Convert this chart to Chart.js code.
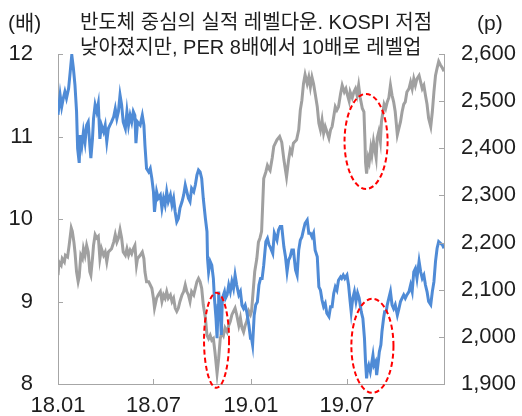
<!DOCTYPE html>
<html>
<head>
<meta charset="utf-8">
<script src="https://cdn.jsdelivr.net/npm/chart.js@4.4.1/dist/chart.umd.min.js"></script>
<style>
  html, body { margin: 0; padding: 0; background: #ffffff; }
  canvas { display: block; }
</style>
</head>
<body>
<canvas id="chart" width="522" height="416"></canvas>
<script>
// Period covered by the chart and its date ticks
const startDate = '2018-01-02';
const endDate = '2019-12-31';
const tickDates = ['2018-01-02', '2018-07-01', '2019-01-01', '2019-07-01'];
const tickLabels = ['18.01', '18.07', '19.01', '19.07'];

// Text
const titleLines = ['반도체 중심의 실적 레벨다운. KOSPI 저점', '낮아졌지만, PER 8배에서 10배로 레벨업'];
const leftUnit = '(배)';
const rightUnit = '(p)';

// KOSPI index (right axis): days since start date, index level
const kospiDays = [
  0,4,7,10,13,16,20,23,26,29,32,35,37,40,42,45,48,51,54,57,
  60,62,65,67,70,73,76,79,82,86,89,92,95,98,101,105,108,111,114,117,
  120,123,127,130,133,136,139,142,145,147,150,155,159,162,164,167,171,174,177,180,
  182,186,189,193,196,199,202,205,208,212,215,218,221,224,227,230,234,237,240,243,
  246,249,252,256,259,262,265,268,271,274,278,281,282,284,287,290,293,295,298,300,
  302,303,306,308,310,314,316,319,322,325,328,331,334,337,341,344,347,350,353,356,
  360,363,365,367,370,373,376,379,382,385,388,392,395,398,400,405,408,413,416,419,
  422,426,429,432,435,438,441,444,448,451,454,457,460,463,466,470,473,476,479,482,
  485,489,492,495,498,501,504,507,511,514,517,520,523,526,529,533,535,538,541,545,
  548,551,553,556,559,562,565,568,572,575,578,580,582,584,586,589,591,594,596,599,
  601,604,606,609,611,614,616,619,621,624,627,630,633,636,640,643,646,649,652,655,
  658,662,665,668,671,674,677,681,684,687,690,693,696,699,703,706,709,712,715,718,
  721,725,728,729
];
const kospiValues = [
  2471,2513,2488,2506,2520,2506,2527,2562,2598,2570,2534,2478,2400,2369,2428,2406,2435,2413,2449,2456,
  2407,2379,2420,2463,2492,2478,2495,2420,2449,2435,2449,2414,2442,2449,2456,2467,2484,2463,2478,2513,
  2492,2456,2442,2478,2449,2470,2456,2478,2470,2411,2456,2449,2470,2449,2406,2357,2350,2357,2336,2308,
  2265,2308,2294,2301,2273,2294,2280,2308,2287,2301,2280,2294,2265,2244,2251,2273,2287,2301,2322,2308,
  2294,2287,2315,2308,2322,2343,2354,2350,2336,2294,2251,2223,2167,2138,2160,2152,2124,2082,2039,1997,
  2067,2096,2053,2004,2082,2096,2082,2089,2110,2096,2117,2103,2131,2110,2089,2096,2067,2060,2067,2053,
  2025,1997,1997,1983,2046,2068,2074,2110,2124,2124,2152,2202,2209,2195,2191,2177,2220,2205,2227,2234,
  2234,2191,2170,2138,2163,2170,2184,2184,2142,2131,2184,2205,2212,2227,2241,2248,2220,2220,2212,2220,
  2184,2170,2106,2099,2078,2064,2071,2050,2043,2064,2064,2092,2106,2099,2120,2127,2124,2131,2124,2131,
  2110,2075,2053,2082,2096,2075,2093,2082,2053,2039,1997,1947,1912,1933,1940,1926,1940,1961,1940,1947,
  1919,1947,1968,1983,2011,2039,2053,2053,2068,2082,2096,2068,2060,2068,2046,2060,2075,2082,2089,2082,
  2089,2096,2110,2096,2138,2145,2124,2160,2138,2124,2131,2110,2096,2075,2068,2096,2117,2160,2188,2202,
  2199,2195,2188,2160
];

// 12-month forward PER (left axis): days since start date, multiple
const perDays = [
  0,2,6,8,12,14,18,21,25,27,30,32,35,38,40,43,46,48,51,54,
  57,60,62,65,67,70,73,76,79,82,86,89,92,95,98,101,105,108,111,114,
  117,120,123,127,130,133,136,139,142,145,148,150,155,159,162,164,167,171,174,177,
  180,182,186,189,193,196,199,202,205,208,212,215,218,221,224,227,230,234,237,240,
  243,246,249,252,256,259,262,265,268,271,274,278,281,284,287,290,293,296,300,303,
  306,309,312,315,319,322,325,328,331,334,337,341,344,347,350,353,356,360,363,365,
  368,371,375,378,381,384,386,388,392,395,398,400,404,407,413,418,422,426,431,435,
  438,441,444,450,454,457,460,463,466,470,473,476,479,482,485,489,492,495,498,501,
  504,507,511,514,517,520,523,526,529,533,536,540,543,546,549,551,555,558,561,564,
  567,570,574,577,579,580,582,585,587,590,592,595,597,600,602,605,608,610,613,615,
  618,621,624,627,630,633,636,640,643,646,649,652,655,658,662,665,668,671,674,677,
  681,684,687,690,693,696,699,703,706,709,712,715,718,721,725,728,729
];
const perValues = [
  9.32,9.48,9.44,9.52,9.48,9.56,9.54,9.68,9.89,9.85,9.72,9.60,9.36,9.24,9.30,9.56,9.52,9.64,9.56,9.68,
  9.60,9.36,9.32,9.52,9.68,9.81,9.77,9.79,9.52,9.64,9.56,9.60,9.48,9.60,9.62,9.64,9.72,9.81,9.72,9.77,
  9.87,9.77,9.60,9.56,9.64,9.56,9.62,9.58,9.64,9.68,9.44,9.52,9.56,9.60,9.52,9.36,9.24,9.24,9.20,9.16,
  9.04,8.92,9.04,9.08,9.12,9.00,9.08,9.04,9.12,9.04,9.08,9.00,9.04,8.92,8.88,8.92,9.00,9.08,9.12,9.20,
  9.12,9.08,9.00,9.12,9.08,9.16,9.24,9.28,9.24,9.16,8.96,8.80,8.59,8.55,8.59,8.53,8.55,8.39,8.13,8.31,
  8.55,8.63,8.59,8.68,8.63,8.71,8.76,8.84,8.88,8.92,8.84,8.71,8.80,8.68,8.63,8.71,8.76,8.88,8.84,8.88,
  9.12,9.36,9.52,9.72,9.77,9.85,10.17,10.49,10.57,10.65,10.61,10.59,10.74,10.88,10.96,11.00,10.93,10.72,10.51,10.72,
  10.84,10.80,10.92,10.96,11.08,11.32,11.44,11.64,11.75,11.64,11.72,11.60,11.72,11.64,11.52,11.36,11.16,11.08,11.20,11.04,
  11.12,11.06,10.98,11.08,11.12,11.24,11.36,11.32,11.36,11.52,11.62,11.54,11.58,11.50,11.43,11.54,11.47,11.54,11.58,11.50,
  11.62,11.47,11.34,11.30,10.94,10.69,10.55,10.74,10.69,10.86,10.78,10.94,10.86,10.74,10.98,11.06,10.94,11.18,11.30,11.39,
  11.34,11.42,11.47,11.62,11.50,11.42,11.30,11.02,11.10,11.18,11.30,11.39,11.42,11.54,11.58,11.66,11.58,11.70,11.62,11.70,
  11.74,11.66,11.58,11.62,11.50,11.39,11.22,11.12,11.30,11.54,11.74,11.83,11.91,11.87,11.83,11.79,11.50
];

// Dashed circles marking the two troughs (centre and half-extent in data units)
const highlights = [
  { yAxis: 'yPer',   day: 299, value: 8.53,  halfDays: 23.6, halfValue: 0.576 },
  { yAxis: 'yPer',   day: 581, value: 10.94, halfDays: 40.6, halfValue: 0.576 },
  { yAxis: 'yKospi', day: 593, value: 1981,  halfDays: 39.7, halfValue: 99.7 }
];

const DAY_MS = 86400000;
const dayOf = d => Math.round((Date.parse(d) - Date.parse(startDate)) / DAY_MS);
const tickDays = tickDates.map(dayOf);

const TEXT = '#1e1e1e';
const FRAME = '#a6a6a6';
const NUM_FONT = "'Liberation Sans', Arial, sans-serif";
const KR_FONT = "'Liberation Sans', 'Noto Sans CJK KR', sans-serif";

const kospiData = kospiDays.map((d, i) => ({ x: d, y: kospiValues[i] }));
const perData = perDays.map((d, i) => ({ x: d, y: perValues[i] }));

// Inward tick marks, trough highlights and header text
const decorations = {
  id: 'decorations',
  afterDraw(chart) {
    const { ctx, chartArea, scales } = chart;
    ctx.save();

    // tick marks pointing into the plot
    ctx.strokeStyle = FRAME;
    ctx.lineWidth = 1;
    ctx.beginPath();
    scales.x.ticks.forEach(t => {
      const px = Math.round(scales.x.getPixelForValue(t.value)) + 0.5;
      ctx.moveTo(px, chartArea.bottom);
      ctx.lineTo(px, chartArea.bottom - 5);
    });
    scales.yPer.ticks.forEach(t => {
      const py = Math.round(scales.yPer.getPixelForValue(t.value)) + 0.5;
      ctx.moveTo(chartArea.left, py);
      ctx.lineTo(chartArea.left + 5, py);
    });
    scales.yKospi.ticks.forEach(t => {
      const py = Math.round(scales.yKospi.getPixelForValue(t.value)) + 0.5;
      ctx.moveTo(chartArea.right, py);
      ctx.lineTo(chartArea.right - 5, py);
    });
    ctx.stroke();

    // dashed ellipses
    ctx.strokeStyle = '#ff0000';
    ctx.lineWidth = 2;
    ctx.setLineDash([5, 3]);
    highlights.forEach(h => {
      const ys = scales[h.yAxis];
      const cx = scales.x.getPixelForValue(h.day);
      const cy = ys.getPixelForValue(h.value);
      const rx = Math.abs(scales.x.getPixelForValue(h.day + h.halfDays) - cx);
      const ry = Math.abs(ys.getPixelForValue(h.value + h.halfValue) - cy);
      ctx.beginPath();
      ctx.ellipse(cx, cy, rx, ry, 0, 0, Math.PI * 2);
      ctx.stroke();
    });
    ctx.setLineDash([]);

    // header: units and title
    ctx.fillStyle = TEXT;
    ctx.textBaseline = 'alphabetic';
    ctx.textAlign = 'left';
    ctx.font = '21px ' + KR_FONT;
    ctx.fillText(leftUnit, 8, 30);
    ctx.fillText(rightUnit, 477, 30);
    ctx.font = '20px ' + KR_FONT;
    ctx.fillText(titleLines[0], 80, 29);
    ctx.fillText(titleLines[1], 80, 54);
    ctx.restore();
  }
};

// Label offsets are set through tickLength (marks themselves are hidden with the grid),
// so that tick padding does not inflate the layout around the plot.
new Chart(document.getElementById('chart'), {
  type: 'line',
  data: {
    datasets: [
      {
        label: 'KOSPI',
        data: kospiData,
        yAxisID: 'yKospi',
        borderColor: '#4f8bd6',
        borderWidth: 3,
        pointRadius: 0,
        tension: 0,
        fill: false
      },
      {
        label: 'PER',
        data: perData,
        yAxisID: 'yPer',
        borderColor: '#a0a0a0',
        borderWidth: 3,
        pointRadius: 0,
        tension: 0,
        fill: false
      }
    ]
  },
  options: {
    responsive: false,
    animation: false,
    devicePixelRatio: 1,
    layout: { padding: { top: 54, left: 0, right: 0, bottom: 0 } },
    plugins: { legend: { display: false }, tooltip: { enabled: false }, title: { display: false } },
    scales: {
      x: {
        type: 'linear',
        min: 0,
        max: dayOf(endDate),
        afterBuildTicks: scale => { scale.ticks = tickDays.map(v => ({ value: v })); },
        afterFit: scale => { scale.height = 32; },
        grid: { display: false, drawTicks: true, tickLength: 9 },
        border: { display: true, color: FRAME, width: 1 },
        ticks: {
          autoSkip: false,
          maxRotation: 0,
          padding: 0,
          color: TEXT,
          font: { family: NUM_FONT, size: 22 },
          callback: (v, i) => tickLabels[i]
        }
      },
      yPer: {
        type: 'linear',
        position: 'left',
        min: 8,
        max: 12,
        afterFit: scale => { scale.width = 58; },
        grid: { display: false, drawTicks: true, tickLength: 25 },
        border: { display: true, color: FRAME, width: 1 },
        ticks: {
          stepSize: 1,
          padding: 0,
          color: TEXT,
          font: { family: NUM_FONT, size: 22 }
        }
      },
      yKospi: {
        type: 'linear',
        position: 'right',
        min: 1900,
        max: 2600,
        afterFit: scale => { scale.width = 78; },
        grid: { display: false, drawTicks: true, tickLength: 17 },
        border: { display: true, color: FRAME, width: 1 },
        ticks: {
          stepSize: 100,
          padding: 0,
          color: TEXT,
          font: { family: NUM_FONT, size: 22 },
          callback: v => v.toLocaleString('en-US')
        }
      }
    }
  },
  plugins: [decorations]
});
</script>
</body>
</html>
